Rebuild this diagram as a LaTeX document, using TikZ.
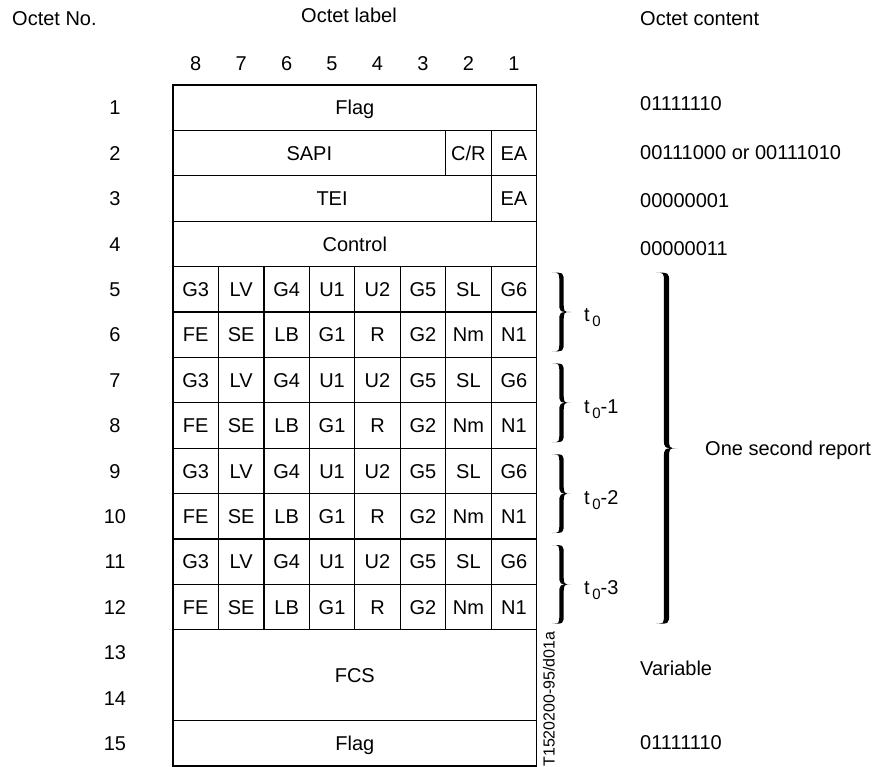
\documentclass[tikz,border=0pt]{standalone}
\usepackage{fontspec}
\setmainfont{Liberation Sans}
\newcommand\fs[1]{\fontsize{#1}{#1}\selectfont}
% filled right curly brace: #1 x of ends, #2 x of tip, #3 y top, #4 y bottom, #5 y tip, #6 half thickness
\newcommand\bracefill[6]{%
  \pgfmathsetmacro\bxm{(#1+#2)/2}%
  \pgfmathsetmacro\bxl{\bxm-#6}%
  \pgfmathsetmacro\bxr{\bxm+#6}%
  \fill ({#1},{#3}) .. controls ({\bxr},{#3}) .. ({\bxr},{#3+10})
    -- ({\bxr},{#5-10}) .. controls ({\bxr},{#5}) .. ({#2},{#5})
    .. controls ({\bxr},{#5}) .. ({\bxr},{#5+10})
    -- ({\bxr},{#4-10}) .. controls ({\bxr},{#4}) .. ({#1},{#4})
    .. controls ({\bxl},{#4}) .. ({\bxl},{#4-10})
    -- ({\bxl},{#5+10}) .. controls ({\bxl},{#5}) .. ({#2},{#5})
    .. controls ({\bxl},{#5}) .. ({\bxl},{#5-10})
    -- ({\bxl},{#3+10}) .. controls ({\bxl},{#3}) .. ({#1},{#3}) -- cycle;
}
\begin{document}
\begin{tikzpicture}[x=1pt,y=-1pt,
  cell/.style={draw, line width=1.3pt, inner sep=0pt, outer sep=0pt,
    minimum height=45.4pt, text height=14.3pt, text depth=0pt,
    anchor=north west, font=\fs{20}},
  lbl/.style={inner sep=0pt, text height=14.3pt, text depth=0pt, font=\fs{20}},
  tlbl/.style={lbl, anchor=west}]
\useasboundingbox[fill=white] (0,0) rectangle (877,767);

% headers
\node[lbl, anchor=west] (hno) at (12,18) {Octet No.};
\node[lbl] (hlabel) at (349,15) {Octet label};
\node[lbl, anchor=west] (hcont) at (640,18) {Octet content};

% column numbers
\foreach \c [count=\i from 0] in {8,7,6,5,4,3,2,1}
  \node[lbl] (col\c) at ({195.7+\i*45.45},63) {\c};

% row numbers
\foreach \r in {1,...,15}
  \node[lbl] (row\r) at (115,{85+(\r-0.5)*45.4}) {\r};

% header octets
\node[cell, minimum width=363.6pt] (flag1) at (173,85) {Flag};
\node[cell, minimum width=272.7pt] (sapi) at (173,130.4) {SAPI};
\node[cell, minimum width=45.45pt] (cr) at (445.7,130.4) {C/R};
\node[cell, minimum width=45.45pt] (ea1) at (491.15,130.4) {EA};
\node[cell, minimum width=318.15pt] (tei) at (173,175.8) {TEI};
\node[cell, minimum width=45.45pt] (ea2) at (491.15,175.8) {EA};
\node[cell, minimum width=363.6pt] (ctrl) at (173,221.2) {Control};

% report octets
\foreach \p in {0,1,2,3}{
  \foreach \t [count=\c from 0] in {G3,LV,G4,U1,U2,G5,SL,G6}
    \node[cell, minimum width=45.45pt] (a\p\c) at ({173+\c*45.45},{266.6+\p*90.8}) {\t};
  \foreach \t [count=\c from 0] in {FE,SE,LB,G1,R,G2,Nm,N1}
    \node[cell, minimum width=45.45pt] (b\p\c) at ({173+\c*45.45},{312+\p*90.8}) {\t};
}

% trailer
\node[cell, minimum width=363.6pt, minimum height=90.8pt] (fcs) at (173,629.8) {FCS};
\node[cell, minimum width=363.6pt] (flag2) at (173,720.6) {Flag};

% braces
\foreach \p in {0,1,2,3}{%
  \bracefill{552}{571}{272.6+\p*90.8}{351.4+\p*90.8}{312+\p*90.8}{2.2}%
}
\bracefill{656}{677}{272.6}{623.8}{448.2}{2.6}

% time labels
\node[tlbl] (t0) at (584,314) {t\kern2.5pt\raisebox{-5pt}{\fs{15}0}};
\node[tlbl] (t1) at (584,406) {t\kern2.5pt\raisebox{-5pt}{\fs{15}0}-1};
\node[tlbl] (t2) at (584,497) {t\kern2.5pt\raisebox{-5pt}{\fs{15}0}-2};
\node[tlbl] (t3) at (584,587.5) {t\kern2.5pt\raisebox{-5pt}{\fs{15}0}-3};
\node[tlbl] (osr) at (705,448.2) {One second report};

% octet contents
\node[tlbl] (v1) at (640,103) {01111110};
\node[tlbl] (v2) at (640,152) {00111000 or 00111010};
\node[tlbl] (v3) at (640,200) {00000001};
\node[tlbl] (v4) at (640,248) {00000011};
\node[tlbl] (v13) at (640,668) {Variable};
\node[tlbl] (v15) at (640,742) {01111110};

% figure reference
\node[inner sep=0pt, rotate=90, font=\fs{16}] (ref) at (549,699) {T1520200-95/d01a};
\end{tikzpicture}
\end{document}
